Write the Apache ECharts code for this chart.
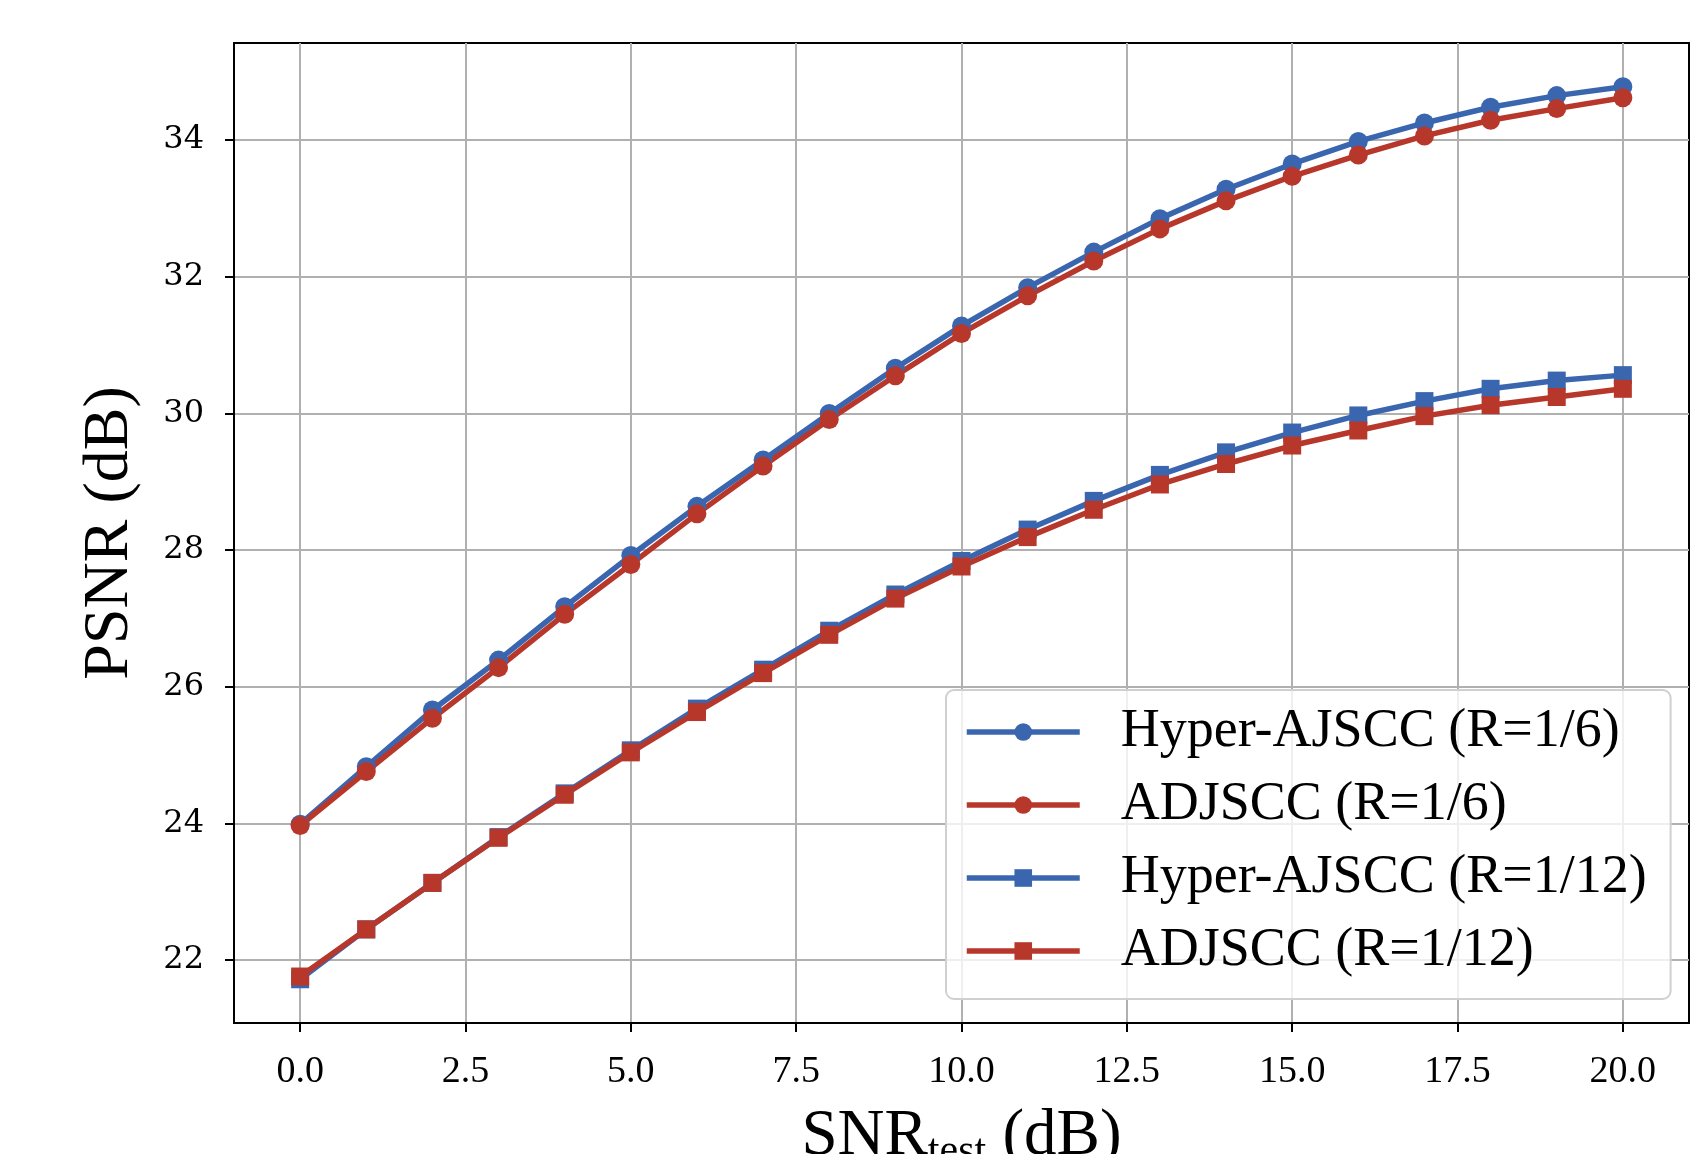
<!DOCTYPE html>
<html>
<head>
<meta charset="utf-8">
<script src="https://cdn.jsdelivr.net/npm/echarts@6/dist/echarts.min.js"></script>
<style>
  html, body { margin: 0; padding: 0; background: #fff; }
  #chart { width: 1705px; height: 1154px; }
</style>
</head>
<body>
<div id="chart"></div>
<script>
// SNR_test values (dB)
const snr = [0, 1, 2, 3, 4, 5, 6, 7, 8, 9, 10, 11, 12, 13, 14, 15, 16, 17, 18, 19, 20];

// PSNR (dB)
const hyperR6 = [23.99, 24.83, 25.66, 26.39, 27.17, 27.92, 28.64, 29.32, 30.00, 30.66, 31.28,
                 31.84, 32.36, 32.85, 33.28, 33.65, 33.98, 34.25, 34.48, 34.65, 34.78];
const adjsccR6 = [23.97, 24.76, 25.54, 26.28, 27.06, 27.79, 28.53, 29.23, 29.91, 30.55, 31.17,
                  31.72, 32.23, 32.70, 33.11, 33.47, 33.78, 34.06, 34.29, 34.46, 34.62];
const hyperR12 = [21.72, 22.45, 23.13, 23.80, 24.44, 25.07, 25.68, 26.25, 26.82, 27.35, 27.84,
                  28.30, 28.72, 29.10, 29.43, 29.72, 29.97, 30.18, 30.36, 30.48, 30.56];
const adjsccR12 = [21.76, 22.45, 23.13, 23.79, 24.42, 25.04, 25.63, 26.20, 26.76, 27.29, 27.76,
                   28.19, 28.59, 28.96, 29.26, 29.53, 29.75, 29.96, 30.12, 30.24, 30.36];

const xTicks = [0, 2.5, 5, 7.5, 10, 12.5, 15, 17.5, 20];
const yTicks = [22, 24, 26, 28, 30, 32, 34];

const BLUE = "#3a66b0";
const RED = "#b8372b";
const SERIF = "'Liberation Serif', 'Times New Roman', serif";

function pairs(ys) {
  return snr.map((x, i) => [x, ys[i]]);
}

function makeSeries(name, ys, color, symbol) {
  return {
    name: name,
    type: "line",
    data: pairs(ys),
    symbol: symbol,
    symbolSize: symbol === "rect" ? 18 : 19,
    showSymbol: true,
    lineStyle: { color: color, width: 5.5 },
    itemStyle: { color: color },
    emphasis: { disabled: true },
    animation: false,
  };
}

const chart = echarts.init(document.getElementById("chart"));

const option = {
  backgroundColor: "#fff",
  animation: false,
  grid: {
    left: 234,
    top: 43,
    width: 1455,
    height: 980,
    show: true,
    borderColor: "#000",
    borderWidth: 2,
    backgroundColor: "transparent",
    outerBoundsMode: "none",
  },
  xAxis: {
    type: "value",
    min: -1,
    max: 21,
    name: "{a|SNR}{b|test}{a| (dB)}",
    nameLocation: "middle",
    nameGap: 78,
    nameTextStyle: {
      rich: {
        a: { fontFamily: SERIF, fontSize: 65, color: "#000" },
        b: { fontFamily: SERIF, fontSize: 42, color: "#000", padding: [30, 0, 0, 0] },
      },
    },
    axisLine: { show: true, onZero: false, lineStyle: { color: "#000", width: 2 } },
    axisTick: { show: true, length: 9, customValues: xTicks, lineStyle: { color: "#000", width: 2 } },
    axisLabel: {
      customValues: xTicks,
      margin: 30,
      fontFamily: SERIF,
      fontSize: 38,
      color: "#000",
      formatter: (v) => v.toFixed(1),
    },
    splitLine: { show: true, lineStyle: { color: "#b0b0b0", width: 2 } },
  },
  yAxis: {
    type: "value",
    min: 21.08,
    max: 35.42,
    name: "PSNR (dB)",
    nameLocation: "middle",
    nameGap: 92,
    nameTextStyle: { fontFamily: SERIF, fontSize: 64, color: "#000" },
    axisLine: { show: true, onZero: false, lineStyle: { color: "#000", width: 2 } },
    axisTick: { show: true, length: 9, customValues: yTicks, lineStyle: { color: "#000", width: 2 } },
    axisLabel: {
      customValues: yTicks,
      margin: 30,
      fontFamily: "'DejaVu Serif', serif",
      fontSize: 32,
      color: "#000",
    },
    splitLine: { show: true, lineStyle: { color: "#b0b0b0", width: 2 } },
  },
  legend: {
    orient: "vertical",
    left: 946,
    top: 690,
    padding: [14, 24, 20, 18],
    itemWidth: 113,
    itemHeight: 22,
    itemGap: 17,
    backgroundColor: "rgba(255,255,255,0.8)",
    borderColor: "#d0d0d0",
    borderWidth: 2,
    borderRadius: 8,
    selectedMode: false,
    lineStyle: { width: 5.5 },
    textStyle: {
      fontFamily: SERIF,
      fontSize: 54,
      lineHeight: 56,
      color: "#000",
      padding: [0, 0, 0, 36],
    },
    data: [
      "Hyper-AJSCC (R=1/6)",
      "ADJSCC (R=1/6)",
      "Hyper-AJSCC (R=1/12)",
      "ADJSCC (R=1/12)",
    ],
  },
  series: [
    makeSeries("Hyper-AJSCC (R=1/6)", hyperR6, BLUE, "circle"),
    makeSeries("ADJSCC (R=1/6)", adjsccR6, RED, "circle"),
    makeSeries("Hyper-AJSCC (R=1/12)", hyperR12, BLUE, "rect"),
    makeSeries("ADJSCC (R=1/12)", adjsccR12, RED, "rect"),
  ],
};

chart.setOption(option);
</script>
</body>
</html>
